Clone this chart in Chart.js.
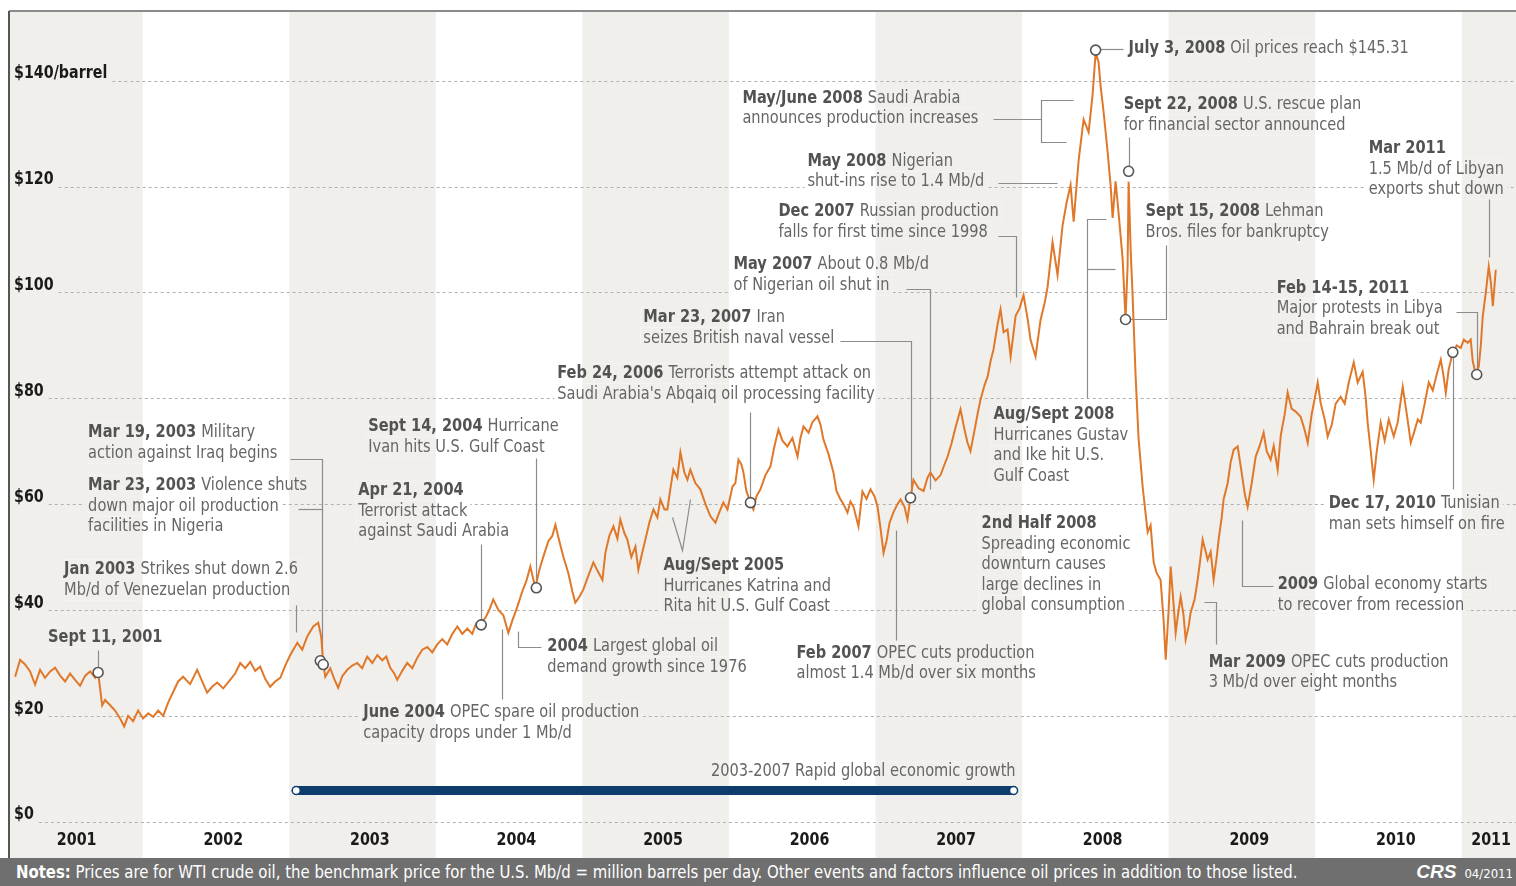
<!DOCTYPE html>
<html>
<head>
<meta charset="utf-8">
<script src="https://cdn.jsdelivr.net/npm/chart.js@4.4.1/dist/chart.umd.min.js"></script>
<style>
  html, body { margin: 0; padding: 0; background: #fff; overflow: hidden; }
  #wrap { position: relative; width: 1516px; height: 858px; }
  #oilChart { display: block; }
  #notes {
    position: relative; width: 1516px; height: 28px; box-sizing: border-box; overflow: hidden;
    background: #6f6f6f; color: #fff; padding-left: 16px; white-space: nowrap;
    font: 18px "Liberation Sans Narrow", "DejaVu Sans Condensed", "Roboto Condensed", sans-serif;
    line-height: 28px;
  }
  #notes .txt { display: inline-block; transform: scaleX(0.92); transform-origin: left center; }
  #crs { position: absolute; right: 3px; top: 0; }
  #crs b { font: italic bold 19px "Liberation Sans", Arial, sans-serif; margin-right: 8px; }
  #crs small { font-size: 13px; }
</style>
</head>
<body>
<div id="wrap"><canvas id="oilChart" width="1516" height="858"></canvas></div>
<div id="notes"><span class="txt"><b>Notes:</b> Prices are for WTI crude oil, the benchmark price for the U.S. Mb/d = million barrels per day. Other events and factors influence oil prices in addition to those listed.</span><span id="crs"><b>CRS</b><small>04/2011</small></span></div>
<script>
// WTI daily price (decimal year / $ per barrel)
const dates = [
  2001.130, 2001.164, 2001.198, 2001.232, 2001.266, 2001.300, 2001.334, 2001.369, 2001.403, 2001.437,
  2001.471, 2001.505, 2001.539, 2001.573, 2001.608, 2001.642, 2001.676, 2001.696, 2001.724, 2001.744,
  2001.778, 2001.812, 2001.846, 2001.874, 2001.901, 2001.935, 2001.969, 2002.003, 2002.038, 2002.072,
  2002.106, 2002.140, 2002.174, 2002.208, 2002.242, 2002.276, 2002.324, 2002.372, 2002.406, 2002.440,
  2002.474, 2002.509, 2002.550, 2002.597, 2002.631, 2002.666, 2002.700, 2002.734, 2002.768, 2002.802,
  2002.836, 2002.870, 2002.904, 2002.939, 2002.973, 2003.007, 2003.055, 2003.089, 2003.123, 2003.164,
  2003.198, 2003.218, 2003.232, 2003.246, 2003.280, 2003.307, 2003.334, 2003.362, 2003.396, 2003.430,
  2003.464, 2003.498, 2003.532, 2003.567, 2003.601, 2003.635, 2003.662, 2003.689, 2003.717, 2003.737,
  2003.771, 2003.805, 2003.840, 2003.874, 2003.908, 2003.942, 2003.976, 2004.010, 2004.044, 2004.078,
  2004.113, 2004.147, 2004.181, 2004.215, 2004.249, 2004.276, 2004.304, 2004.338, 2004.365, 2004.392,
  2004.427, 2004.461, 2004.495, 2004.522, 2004.556, 2004.590, 2004.618, 2004.645, 2004.679, 2004.706,
  2004.734, 2004.768, 2004.795, 2004.816, 2004.843, 2004.870, 2004.904, 2004.932, 2004.952, 2004.980,
  2005.007, 2005.041, 2005.075, 2005.102, 2005.137, 2005.157, 2005.184, 2005.212, 2005.239, 2005.259,
  2005.287, 2005.307, 2005.334, 2005.362, 2005.382, 2005.410, 2005.430, 2005.457, 2005.485, 2005.512,
  2005.532, 2005.560, 2005.580, 2005.601, 2005.621, 2005.648, 2005.669, 2005.696, 2005.717, 2005.737,
  2005.771, 2005.805, 2005.840, 2005.874, 2005.908, 2005.935, 2005.962, 2005.990, 2006.024, 2006.044,
  2006.065, 2006.085, 2006.099, 2006.119, 2006.147, 2006.167, 2006.188, 2006.215, 2006.249, 2006.283,
  2006.311, 2006.338, 2006.365, 2006.399, 2006.433, 2006.468, 2006.488, 2006.509, 2006.543, 2006.570,
  2006.604, 2006.625, 2006.645, 2006.679, 2006.713, 2006.734, 2006.761, 2006.782, 2006.809, 2006.829,
  2006.850, 2006.884, 2006.911, 2006.939, 2006.966, 2006.993, 2007.014, 2007.034, 2007.055, 2007.075,
  2007.096, 2007.123, 2007.150, 2007.171, 2007.198, 2007.218, 2007.239, 2007.259, 2007.294, 2007.328,
  2007.355, 2007.375, 2007.410, 2007.444, 2007.471, 2007.492, 2007.519, 2007.546, 2007.580, 2007.608,
  2007.628, 2007.648, 2007.676, 2007.696, 2007.717, 2007.744, 2007.765, 2007.785, 2007.805, 2007.833,
  2007.853, 2007.874, 2007.901, 2007.922, 2007.956, 2007.983, 2008.010, 2008.038, 2008.058, 2008.092,
  2008.126, 2008.154, 2008.174, 2008.208, 2008.242, 2008.276, 2008.304, 2008.331, 2008.352, 2008.386,
  2008.420, 2008.454, 2008.481, 2008.502, 2008.522, 2008.536, 2008.556, 2008.584, 2008.604, 2008.618,
  2008.638, 2008.659, 2008.686, 2008.706, 2008.720, 2008.727, 2008.741, 2008.754, 2008.775, 2008.795,
  2008.823, 2008.857, 2008.877, 2008.898, 2008.918, 2008.945, 2008.966, 2008.980, 2009.000, 2009.014,
  2009.034, 2009.048, 2009.068, 2009.082, 2009.102, 2009.116, 2009.137, 2009.150, 2009.177, 2009.198,
  2009.218, 2009.232, 2009.253, 2009.266, 2009.287, 2009.307, 2009.328, 2009.341, 2009.362, 2009.375,
  2009.403, 2009.423, 2009.444, 2009.471, 2009.498, 2009.519, 2009.539, 2009.567, 2009.594, 2009.621,
  2009.648, 2009.669, 2009.696, 2009.717, 2009.744, 2009.765, 2009.792, 2009.812, 2009.840, 2009.867,
  2009.901, 2009.928, 2009.949, 2009.976, 2009.997, 2010.017, 2010.038, 2010.065, 2010.085, 2010.113,
  2010.140, 2010.174, 2010.201, 2010.229, 2010.263, 2010.290, 2010.324, 2010.345, 2010.358, 2010.379,
  2010.399, 2010.420, 2010.447, 2010.474, 2010.502, 2010.536, 2010.563, 2010.597, 2010.625, 2010.652,
  2010.679, 2010.700, 2010.720, 2010.747, 2010.775, 2010.802, 2010.829, 2010.857, 2010.877, 2010.891,
  2010.911, 2010.939, 2010.966, 2010.993, 2011.014, 2011.041, 2011.061, 2011.075, 2011.096, 2011.116,
  2011.130, 2011.143, 2011.164, 2011.184, 2011.198, 2011.212, 2011.232
];
const prices = [
  27.4, 30.6, 29.7, 28.4, 25.9, 28.7, 27.2, 28.4, 29.1, 27.6,
  26.5, 28.0, 26.8, 25.7, 27.6, 28.4, 27.2, 28.2, 22.0, 23.0,
  22.0, 21.0, 19.5, 18.0, 20.0, 19.0, 21.0, 19.5, 20.5, 19.8,
  21.0, 20.0, 22.5, 24.5, 26.5, 27.4, 26.0, 28.7, 26.5, 24.4,
  25.5, 26.3, 25.2, 26.8, 28.0, 30.0, 29.0, 30.2, 28.5, 29.3,
  27.0, 25.5, 26.5, 27.2, 29.5, 31.5, 33.8, 32.5, 35.0, 36.9,
  37.6, 35.0, 30.0, 27.4, 29.0, 27.0, 25.3, 27.5, 28.7, 29.5,
  30.0, 29.0, 31.2, 30.0, 31.5, 30.5, 31.2, 29.1, 28.0, 26.8,
  28.5, 30.0, 29.0, 31.0, 32.5, 33.0, 32.0, 33.5, 34.5, 33.5,
  35.5, 36.9, 35.5, 36.5, 35.5, 37.5, 37.6, 38.5, 40.0, 42.0,
  40.0, 39.0, 35.7, 38.0, 40.6, 43.5, 45.5, 48.2, 44.2, 47.5,
  50.1, 53.0, 54.0, 56.1, 53.0, 50.1, 47.0, 43.5, 41.4, 42.5,
  43.9, 46.5, 49.0, 47.5, 45.7, 50.8, 54.0, 55.8, 53.5, 57.1,
  54.5, 53.3, 50.0, 52.0, 47.6, 51.0, 53.3, 56.5, 59.0, 57.5,
  60.9, 59.0, 59.0, 63.0, 66.5, 65.0, 69.8, 66.0, 64.6, 66.5,
  64.0, 62.8, 60.0, 57.7, 56.5, 58.5, 60.3, 59.0, 63.3, 64.0,
  68.4, 67.5, 66.0, 62.5, 60.3, 59.0, 61.5, 62.8, 65.5, 67.1,
  71.0, 74.1, 72.0, 70.9, 72.5, 69.0, 72.5, 74.7, 73.5, 75.5,
  76.6, 75.0, 72.2, 69.5, 66.0, 62.5, 60.9, 60.0, 58.4, 60.5,
  59.5, 55.8, 62.4, 61.0, 62.8, 61.5, 59.5, 55.5, 50.8, 53.0,
  56.5, 58.5, 60.0, 60.9, 59.5, 57.1, 61.2, 64.6, 63.0, 62.5,
  65.0, 66.0, 64.5, 65.5, 67.5, 69.0, 71.5, 74.5, 77.9, 74.0,
  71.6, 70.0, 74.0, 77.0, 79.8, 82.5, 84.1, 87.0, 89.2, 94.0,
  96.8, 92.5, 93.0, 87.9, 95.6, 97.0, 99.5, 95.0, 91.0, 87.9,
  94.8, 98.0, 101.0, 109.5, 103.3, 112.6, 117.0, 120.3, 113.4, 125.0,
  132.7, 130.3, 137.3, 145.3, 143.5, 139.0, 134.2, 126.5, 120.3, 114.1,
  121.0, 114.9, 106.4, 94.9, 105.0, 120.9, 108.0, 99.5, 84.0, 72.4,
  63.2, 54.7, 56.0, 49.0, 47.0, 45.7, 38.0, 30.6, 40.0, 48.2,
  41.0, 35.7, 40.0, 42.5, 39.0, 34.4, 37.0, 39.5, 42.0, 45.7,
  50.0, 53.3, 51.0, 49.5, 51.0, 45.7, 50.0, 53.3, 57.5, 60.9,
  64.0, 67.9, 70.3, 70.9, 66.0, 62.0, 59.5, 64.0, 69.0, 71.0,
  73.5, 70.0, 68.4, 71.0, 66.5, 73.0, 77.0, 81.1, 78.0, 77.5,
  76.5, 74.0, 71.6, 77.0, 80.0, 83.0, 79.0, 76.0, 72.8, 75.0,
  79.0, 80.3, 79.0, 83.0, 86.8, 83.0, 85.0, 80.0, 75.4, 70.0,
  64.6, 70.0, 75.4, 72.0, 76.0, 72.8, 75.5, 82.2, 77.0, 71.6,
  74.0, 76.0, 75.4, 79.0, 83.0, 81.5, 84.5, 87.3, 84.0, 81.0,
  85.5, 88.7, 90.0, 89.5, 91.1, 90.5, 91.1, 87.0, 84.5, 86.0,
  90.0, 95.5, 100.0, 104.9, 102.0, 97.4, 104.3
];

// marked events (open circles)
const eventDates = [2001.696, 2003.212, 2003.232, 2004.310, 2004.686, 2006.147, 2007.239, 2008.502, 2008.706, 2008.727, 2010.939, 2011.102];
const eventPrices = [28.2, 30.4, 29.7, 37.2, 44.2, 60.3, 61.2, 145.8, 94.9, 122.9, 88.7, 84.5];

// 2003-2007 growth bar
const growthDates = [2003.048, 2007.942];
const growthLevel = [5.9, 5.9];

const yTicks = [0, 20, 40, 60, 80, 100, 120, 140];
const yearLabels = ['2001', '2002', '2003', '2004', '2005', '2006', '2007', '2008', '2009', '2010', '2011'];
const yearTickAt = [2001.55, 2002.55, 2003.55, 2004.55, 2005.55, 2006.55, 2007.55, 2008.55, 2009.55, 2010.55, 2011.2];
const shadedYears = [2001, 2003, 2005, 2007, 2009, 2011];

// notes: first line centre at [year, price]
const notes = [
  { at: [2001.355, 34.8], bold: 'Sept 11, 2001', lines: ['Sept 11, 2001'] },
  { at: [2001.464, 47.6], bold: 'Jan 2003', lines: ['Jan 2003 Strikes shut down 2.6', 'Mb/d of Venezuelan production'] },
  { at: [2001.628, 73.5], bold: 'Mar 19, 2003', lines: ['Mar 19, 2003 Military', 'action against Iraq begins'] },
  { at: [2001.628, 63.5], bold: 'Mar 23, 2003', lines: ['Mar 23, 2003 Violence shuts', 'down major oil production', 'facilities in Nigeria'] },
  { at: [2003.471, 62.6], bold: 'Apr 21, 2004', lines: ['Apr 21, 2004', 'Terrorist attack', 'against Saudi Arabia'] },
  { at: [2003.539, 74.7], bold: 'Sept 14, 2004', lines: ['Sept 14, 2004 Hurricane', 'Ivan hits U.S. Gulf Coast'] },
  { at: [2003.505, 20.6], bold: 'June 2004', lines: ['June 2004 OPEC spare oil production', 'capacity drops under 1 Mb/d'] },
  { at: [2004.761, 33.1], bold: '2004', lines: ['2004 Largest global oil', 'demand growth since 1976'] },
  { at: [2005.553, 48.4], bold: 'Aug/Sept 2005', lines: ['Aug/Sept 2005', 'Hurricanes Katrina and', 'Rita hit U.S. Gulf Coast'] },
  { at: [2004.829, 84.7], bold: 'Feb 24, 2006', lines: ['Feb 24, 2006 Terrorists attempt attack on', "Saudi Arabia's Abqaiq oil processing facility"] },
  { at: [2005.416, 95.3], bold: 'Mar 23, 2007', lines: ['Mar 23, 2007 Iran', 'seizes British naval vessel'] },
  { at: [2006.031, 105.3], bold: 'May 2007', lines: ['May 2007 About 0.8 Mb/d', 'of Nigerian oil shut in'] },
  { at: [2006.338, 115.3], bold: 'Dec 2007', lines: ['Dec 2007 Russian production', 'falls for first time since 1998'] },
  { at: [2006.536, 124.8], bold: 'May 2008', lines: ['May 2008 Nigerian', 'shut-ins rise to 1.4 Mb/d'] },
  { at: [2006.092, 136.7], bold: 'May/June 2008', lines: ['May/June 2008 Saudi Arabia', 'announces production increases'] },
  { at: [2008.727, 146.1], bold: 'July 3, 2008', lines: ['July 3, 2008 Oil prices reach $145.31'] },
  { at: [2008.693, 135.5], bold: 'Sept 22, 2008', lines: ['Sept 22, 2008 U.S. rescue plan', 'for financial sector announced'] },
  { at: [2008.843, 115.3], bold: 'Sept 15, 2008', lines: ['Sept 15, 2008 Lehman', 'Bros. files for bankruptcy'] },
  { at: [2007.805, 76.9], bold: 'Aug/Sept 2008', lines: ['Aug/Sept 2008', 'Hurricanes Gustav', 'and Ike hit U.S.', 'Gulf Coast'] },
  { at: [2007.724, 56.3], bold: '2nd Half 2008', lines: ['2nd Half 2008', 'Spreading economic', 'downturn causes', 'large declines in', 'global consumption'] },
  { at: [2006.461, 31.9], bold: 'Feb 2007', lines: ['Feb 2007 OPEC cuts production', 'almost 1.4 Mb/d over six months'] },
  { at: [2009.273, 30.2], bold: 'Mar 2009', lines: ['Mar 2009 OPEC cuts production', '3 Mb/d over eight months'] },
  { at: [2009.744, 44.8], bold: '2009', lines: ['2009 Global economy starts', 'to recover from recession'] },
  { at: [2010.092, 60.1], bold: 'Dec 17, 2010', lines: ['Dec 17, 2010 Tunisian', 'man sets himself on fire'] },
  { at: [2009.737, 100.8], bold: 'Feb 14-15, 2011', lines: ['Feb 14-15, 2011', 'Major protests in Libya', 'and Bahrain break out'] },
  { at: [2010.365, 127.2], bold: 'Mar 2011', lines: ['Mar 2011', '1.5 Mb/d of Libyan', 'exports shut down'] },
  { at: [2007.956, 9.5], bold: '', lines: ['2003-2007 Rapid global economic growth'], align: 'right' }
];

// leader lines, as [year, price] polylines
const leaders = [
  [[2001.696, 32.5], [2001.696, 28.2]],
  [[2003.048, 41.0], [2003.048, 35.9]],
  [[2003.007, 68.6], [2003.225, 68.6], [2003.225, 30.4]],
  [[2003.061, 59.0], [2003.225, 59.0]],
  [[2004.310, 52.4], [2004.310, 37.2]],
  [[2004.686, 68.8], [2004.686, 44.2]],
  [[2004.454, 36.5], [2004.454, 23.1]],
  [[2004.563, 36.0], [2004.563, 33.1], [2004.720, 33.1]],
  [[2005.614, 57.5], [2005.683, 51.4], [2005.737, 60.9]],
  [[2006.147, 77.5], [2006.147, 60.3]],
  [[2006.761, 90.9], [2007.239, 90.9], [2007.239, 61.2]],
  [[2007.205, 100.6], [2007.375, 100.6], [2007.375, 62.8]],
  [[2007.833, 110.6], [2007.962, 110.6], [2007.962, 99.1]],
  [[2007.833, 120.6], [2008.235, 120.6]],
  [[2007.799, 132.7], [2008.126, 132.7]],
  [[2008.345, 136.3], [2008.126, 136.3], [2008.126, 128.4], [2008.297, 128.4]],
  [[2008.502, 146.1], [2008.686, 146.1]],
  [[2008.727, 129.3], [2008.727, 122.9]],
  [[2008.980, 108.9], [2008.980, 94.9], [2008.706, 94.9]],
  [[2008.570, 113.8], [2008.440, 113.8], [2008.440, 80.0]],
  [[2008.440, 104.5], [2008.631, 104.5]],
  [[2007.143, 55.2], [2007.143, 34.4]],
  [[2009.239, 41.6], [2009.321, 41.6], [2009.321, 33.5]],
  [[2009.498, 57.1], [2009.498, 44.6], [2009.710, 44.6]],
  [[2010.939, 88.7], [2010.939, 62.8]],
  [[2010.959, 96.4], [2011.102, 96.4], [2011.102, 84.5]],
  [[2011.184, 117.6], [2011.184, 106.8]]
];

const FONT = '"Liberation Sans Narrow", "DejaVu Sans Condensed", "Roboto Condensed", sans-serif';
const LINE_H = 20.5;
const SQUEEZE = 0.9;   // the original type is a condensed face
const BAND = '#f1efec';

function tickText(v) {
  return v === 140 ? '$140/barrel' : '$' + v;
}

// draw text squeezed horizontally
function putText(ctx, txt, x, y, align, sx) {
  ctx.save();
  ctx.translate(x, y);
  ctx.scale(sx, 1);
  ctx.textAlign = align;
  ctx.fillText(txt, 0, 0);
  ctx.restore();
}

function paintBands(chart) {
  const ctx = chart.ctx, a = chart.chartArea, xs = chart.scales.x;
  ctx.fillStyle = '#fff';
  ctx.fillRect(a.left, a.top, a.right - a.left, chart.height - a.top);
  ctx.fillStyle = BAND;
  shadedYears.forEach(yr => {
    const x0 = Math.max(xs.getPixelForValue(yr), a.left);
    const x1 = Math.min(xs.getPixelForValue(yr + 1), a.right);
    if (x1 > x0) ctx.fillRect(x0, a.top, x1 - x0, chart.height - a.top);
  });
}

// text boxes of every note line, in pixels
function noteBoxes(chart) {
  const ctx = chart.ctx, xs = chart.scales.x, ys = chart.scales.y;
  const out = [];
  notes.forEach(n => {
    const px = xs.getPixelForValue(n.at[0]);
    const py = ys.getPixelForValue(n.at[1]);
    n.lines.forEach((ln, i) => {
      let bw = 0, rest = ln;
      if (i === 0 && n.bold) {
        ctx.font = 'bold 18px ' + FONT;
        bw = ctx.measureText(n.bold + ' ').width * SQUEEZE;
        rest = ln.slice(n.bold.length).trim();
      }
      ctx.font = '18px ' + FONT;
      const w = bw + ctx.measureText(rest).width * SQUEEZE;
      const x = n.align === 'right' ? px - w : px;
      out.push({ x: x, y: py + i * LINE_H, w: w, bw: bw, bold: i === 0 ? n.bold : '', rest: rest });
    });
  });
  return out;
}

const backdrop = {
  id: 'backdrop',
  beforeDraw(chart) {
    const ctx = chart.ctx, a = chart.chartArea, ys = chart.scales.y;
    ctx.save();
    paintBands(chart);
    // dashed price lines, starting after their labels
    ctx.font = 'bold 18px ' + FONT;
    ctx.strokeStyle = '#b0b0b0';
    ctx.lineWidth = 1;
    ctx.setLineDash([3, 3]);
    yTicks.forEach(v => {
      const y = Math.round(ys.getPixelForValue(v)) + 0.5;
      const w = ctx.measureText(tickText(v)).width * 0.88;
      ctx.beginPath();
      ctx.moveTo(a.left + 4 + w + 5, y);
      ctx.lineTo(a.right, y);
      ctx.stroke();
    });
    ctx.setLineDash([]);
    // clear the grid behind the note texts
    noteBoxes(chart).forEach(b => {
      ctx.save();
      ctx.beginPath();
      ctx.rect(b.x - 3, b.y - LINE_H / 2, b.w + 6, LINE_H);
      ctx.clip();
      paintBands(chart);
      ctx.restore();
    });
    ctx.restore();
  },
  beforeDatasetsDraw(chart) {
    const ctx = chart.ctx, a = chart.chartArea, xs = chart.scales.x, ys = chart.scales.y;
    ctx.save();
    // frame
    ctx.strokeStyle = '#8a8a8a';
    ctx.lineWidth = 2;
    ctx.beginPath();
    ctx.moveTo(a.left - 1, a.top - 1);
    ctx.lineTo(chart.width, a.top - 1);
    ctx.stroke();
    ctx.strokeStyle = '#555';
    ctx.beginPath();
    ctx.moveTo(a.left - 1, a.top - 1);
    ctx.lineTo(a.left - 1, chart.height);
    ctx.stroke();
    // axis labels, placed by the scales
    ctx.font = 'bold 18px ' + FONT;
    ctx.fillStyle = '#1a1a1a';
    ctx.textBaseline = 'middle';
    ys.ticks.forEach((t, i) => {
      putText(ctx, tickText(t.value), a.left + 4, ys.getPixelForTick(i) - 7, 'left', 0.88);
    });
    xs.ticks.forEach((t, i) => {
      putText(ctx, yearLabels[i], xs.getPixelForTick(i), a.bottom + 13, 'center', 0.88);
    });
    // leaders
    ctx.strokeStyle = '#8c8c8c';
    ctx.lineWidth = 1.2;
    leaders.forEach(pl => {
      ctx.beginPath();
      pl.forEach((p, i) => {
        const x = Math.round(xs.getPixelForValue(p[0])) + 0.5;
        const y = Math.round(ys.getPixelForValue(p[1])) + 0.5;
        if (i === 0) ctx.moveTo(x, y); else ctx.lineTo(x, y);
      });
      ctx.stroke();
    });
    // note texts
    noteBoxes(chart).forEach(b => {
      if (b.bold) {
        ctx.font = 'bold 18px ' + FONT;
        ctx.fillStyle = '#525252';
        putText(ctx, b.bold, b.x, b.y, 'left', SQUEEZE);
      }
      ctx.font = '18px ' + FONT;
      ctx.fillStyle = '#666';
      putText(ctx, b.rest, b.x + b.bw, b.y, 'left', SQUEEZE);
    });
    ctx.restore();
  }
};

const canvas = document.getElementById('oilChart');

new Chart(canvas, {
  type: 'line',
  data: {
    datasets: [
      {
        label: 'Events',
        data: eventDates.map((d, i) => ({ x: d, y: eventPrices[i] })),
        showLine: false,
        pointRadius: 5,
        pointBackgroundColor: '#fff',
        pointBorderColor: '#555',
        pointBorderWidth: 1.6
      },
      {
        label: 'WTI crude oil',
        data: dates.map((d, i) => ({ x: d, y: prices[i] })),
        borderColor: '#e0782a',
        borderWidth: 2,
        pointRadius: 0,
        tension: 0
      },
      {
        label: 'Rapid global economic growth',
        data: growthDates.map((d, i) => ({ x: d, y: growthLevel[i] })),
        borderColor: '#0e3c6d',
        borderWidth: 9,
        borderCapStyle: 'round',
        pointRadius: 4,
        pointBackgroundColor: '#fff',
        pointBorderColor: '#0e3c6d',
        pointBorderWidth: 1.5
      }
    ]
  },
  options: {
    responsive: false,
    animation: false,
    layout: { autoPadding: false, padding: { left: 10, top: 12, right: 0, bottom: 0 } },
    plugins: { legend: { display: false }, tooltip: { enabled: false } },
    scales: {
      x: {
        type: 'linear',
        min: 2001.095,
        max: 2011.37,
        grid: { display: false, drawTicks: false },
        border: { display: false },
        afterBuildTicks: s => { s.ticks = yearTickAt.map(v => ({ value: v })); },
        afterFit: s => { s.height = 31; },
        ticks: { display: false }
      },
      y: {
        min: -1,
        max: 153,
        grid: { display: false, drawTicks: false },
        border: { display: false },
        afterBuildTicks: s => { s.ticks = yTicks.map(v => ({ value: v })); },
        afterFit: s => { s.width = 0; },
        ticks: { display: false }
      }
    }
  },
  plugins: [backdrop]
});
</script>
</body>
</html>
